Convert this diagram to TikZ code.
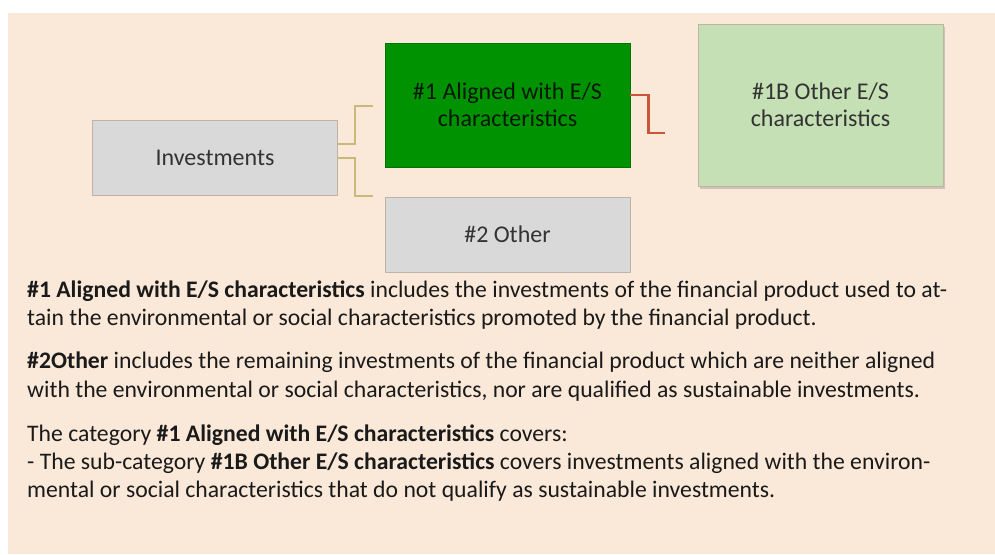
\documentclass[tikz,border=0pt]{standalone}
\usepackage{fontspec}
\setmainfont{Carlito}
\usepackage{tikz}
\usetikzlibrary{positioning,shadows,calc}
\definecolor{peach}{RGB}{250,232,216}
\definecolor{boxgray}{RGB}{217,217,217}
\definecolor{boxline}{RGB}{190,180,165}
\definecolor{darkgreen}{RGB}{0,146,0}
\definecolor{lightgreen}{RGB}{197,224,180}
\definecolor{tanline}{RGB}{200,186,122}
\definecolor{redline}{RGB}{200,85,60}
\definecolor{ink}{RGB}{26,26,26}

\begin{document}
\begin{tikzpicture}[x=1pt,y=-1pt,
    box/.style={draw=boxline,line width=0.8pt,minimum width=245pt,align=center,
      font=\fontsize{24}{27}\selectfont,text=black!80},
    txt/.style={anchor=base west,inner sep=0pt,text=ink,font=\fontsize{23.7}{28}\selectfont},
    link/.style={line width=2pt,tanline}]
      % page
      \useasboundingbox (0,0) rectangle (995,554);
      \fill[white] (0,0) rectangle (995,554);
      \fill[peach] (8,13) rectangle (995,554);
      % boxes
      \node[box,fill=boxgray,minimum height=75pt] (inv) at (215,157.5) {Investments};
      \node[box,fill=darkgreen,draw=darkgreen!80!black,minimum height=124pt,text=black!90!green] (aligned) at (507.5,105) {\#1 Aligned with E/S\\characteristics};
      \node[box,fill=boxgray,minimum height=75pt] (other) at (507.5,234.5) {\#2 Other};
      \node[box,fill=lightgreen,minimum height=162pt,drop shadow={shadow xshift=2pt,shadow yshift=-3pt,opacity=.35}] (otherES) at (820.5,105) {\#1B Other E/S\\characteristics};
      % connectors
      \coordinate (c1) at (373,106);
      \coordinate (c2) at (373,196);
      \coordinate (c3) at (665,133);
      \draw[link] ([yshift=13.5pt]inv.east) -- ++(17,0) |- (c1);
      \draw[link] (inv.east) -- ++(17,0) |- (c2);
      \draw[line width=2.5pt,redline] ([yshift=10pt]aligned.east) -- ++(18,0) |- (c3);
      % text
      \node[txt] (l1) at (27,297) {\textbf{\#1 Aligned with E/S characteristics} includes the investments of the financial product used to at-};
      \node[txt] (l2) at (27,325) {tain the environmental or social characteristics promoted by the financial product.};
      \node[txt] (l3) at (27,368) {\textbf{\#2Other} includes the remaining investments of the financial product which are neither aligned};
      \node[txt] (l4) at (27,397) {with the environmental or social characteristics, nor are qualified as sustainable investments.};
      \node[txt] (l5) at (27,441) {The category \textbf{\#1 Aligned with E/S characteristics} covers:};
      \node[txt] (l6) at (27,469) {- The sub-category \textbf{\#1B Other E/S characteristics} covers investments aligned with the environ-};
      \node[txt] (l7) at (27,497) {mental or social characteristics that do not qualify as sustainable investments.};
\end{tikzpicture}
\end{document}
